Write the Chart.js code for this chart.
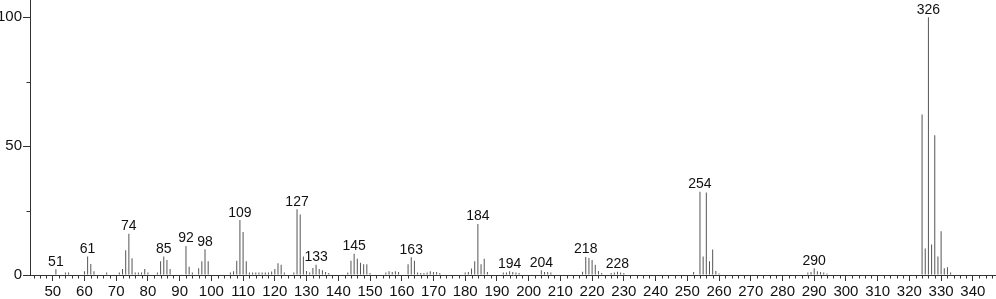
<!DOCTYPE html>
<html><head><meta charset="utf-8">
<script src="https://cdn.jsdelivr.net/npm/chart.js@4/dist/chart.umd.min.js"></script>
<style>html,body{margin:0;padding:0;background:#fff;overflow:hidden}#wrap{width:996px;height:299px;position:relative}</style>
</head><body><div id="wrap"><canvas id="c"></canvas></div>
<script>
const mz = [51,54,55,60,61,62,63,67,71,72,73,74,75,76,77,78,79,80,83,84,85,86,87,92,93,94,96,97,98,99,
  106,107,108,109,110,111,112,113,114,115,116,117,118,119,120,121,122,123,126,127,128,129,130,131,132,133,134,135,136,137,
  143,144,145,146,147,148,149,150,155,156,157,158,159,162,163,164,165,166,167,168,169,170,171,172,
  180,181,182,183,184,185,186,187,192,193,194,195,196,197,204,205,206,207,
  217,218,219,220,221,222,223,226,227,228,229,230,252,254,255,256,257,258,259,260,
  288,289,290,291,292,293,294,324,325,326,327,328,329,330,331,332,333];
const intensity = [2.2,1,1,1.5,7.2,4.3,1.5,1,1,2.3,9.6,16,6.5,1,1,1,2.3,1,1,5.3,7.2,5.8,2.3,11.3,3.2,1,2.6,5.3,10,5.3,
  1,1.5,5.5,21.3,16.7,5.3,1,1,1,1,1,1,1,1.4,2.3,4.6,4,1,1,25.5,23.5,7.2,1.6,1,2.7,4,2.3,1.8,1.2,0.8,
  1,5.5,8.2,6.3,4.8,4.2,4.2,0.8,1,1.5,1.2,1.5,1.2,4.2,6.9,5.5,1,0.8,0.8,1,1.5,1.2,1.2,0.8,
  1,1.2,2.5,5.3,19.8,4.2,6.3,1.2,1,1,1.5,1.2,1,0.8,1.8,1.2,1.2,1,
  1.3,7,6.6,5.8,4,1.6,0.8,0.8,1,1.3,1,0.8,1.2,32.3,7.2,32,5.3,9.9,1.6,0.6,
  1,1.2,2.6,1.5,1.2,1,0.6,62.3,10.3,100,11.8,54.2,7.2,17,2.6,3,1];
const peakLabels = [51,61,74,85,92,98,109,127,133,145,163,184,194,204,218,228,254,290,326];
const xTickLabels = [50,60,70,80,90,100,110,120,130,140,150,160,170,180,190,200,210,220,230,240,250,260,270,280,290,300,310,320,330,340];
const yTickLabels = [0,50,100];
const yMinorTicks = [25,75];

const FONT = '"Liberation Sans", Arial, sans-serif';
const AXIS = '#333';

const minorPlugin = {
  id: 'minor',
  afterDraw(chart) {
    const ctx = chart.ctx, xs = chart.scales.x, ys = chart.scales.y;
    const b = chart.chartArea;
    ctx.save();
    ctx.strokeStyle = AXIS; ctx.lineWidth = 1;
    ctx.beginPath();
    for (let v = 44; v <= 346; v += 2) {
      if (v % 10 === 0) continue;
      const px = Math.round(xs.getPixelForValue(v)) + 0.5;
      ctx.moveTo(px, b.bottom); ctx.lineTo(px, b.bottom + 3.5);
    }
    yMinorTicks.forEach(v => {
      const py = Math.round(ys.getPixelForValue(v)) + 0.5;
      ctx.moveTo(b.left - 3.5, py); ctx.lineTo(b.left, py);
    });
    ctx.stroke();
    ctx.restore();
  },
  afterDatasetsDraw(chart) {
    const ctx = chart.ctx, xs = chart.scales.x, ys = chart.scales.y;
    ctx.save();
    ctx.fillStyle = '#111';
    ctx.font = '14px ' + FONT;
    ctx.textAlign = 'center';
    ctx.textBaseline = 'alphabetic';
    peakLabels.forEach(m => {
      const i = mz.indexOf(m);
      const px = xs.getPixelForValue(m);
      const py = ys.getPixelForValue(intensity[i]);
      ctx.fillText(String(m), px, py - 3.5);
    });
    ctx.restore();
  }
};

new Chart(document.getElementById('c'), {
  type: 'bar',
  data: {
    datasets: [{
      data: mz.map((m, i) => ({x: m, y: intensity[i]})),
      backgroundColor: '#555',
      borderWidth: 0,
      barThickness: 1,
      inflateAmount: 0,
      grouped: false
    }]
  },
  options: {
    responsive: true,
    maintainAspectRatio: false,
    animation: false,
    events: [],
    layout: {padding: 0},
    plugins: {legend: {display: false}, tooltip: {enabled: false}},
    scales: {
      x: {
        type: 'linear',
        offset: false,
        min: 42.84, max: 347.3,
        afterBuildTicks: s => { s.ticks = xTickLabels.map(v => ({value: v})); },
        afterFit: s => { s.height = 24; s.paddingLeft = 0; s.paddingRight = 0; },
        border: {display: true, color: AXIS, width: 1},
        grid: {display: true, offset: false, drawOnChartArea: false, drawTicks: true, tickLength: 6, color: AXIS},
        ticks: {color: '#111', font: {family: FONT, size: 15}, padding: 2, maxRotation: 0, autoSkip: false}
      },
      y: {
        type: 'linear',
        min: 0, max: 106.7,
        afterBuildTicks: s => { s.ticks = yTickLabels.map(v => ({value: v})); },
        afterFit: s => { s.width = 30; s.paddingTop = 0; s.paddingBottom = 0; },
        border: {display: true, color: AXIS, width: 1},
        grid: {display: true, drawOnChartArea: false, drawTicks: true, tickLength: 7, color: AXIS},
        ticks: {color: '#111', font: {family: FONT, size: 15}, padding: 1}
      }
    }
  },
  plugins: [minorPlugin]
});
</script>
</body></html>
